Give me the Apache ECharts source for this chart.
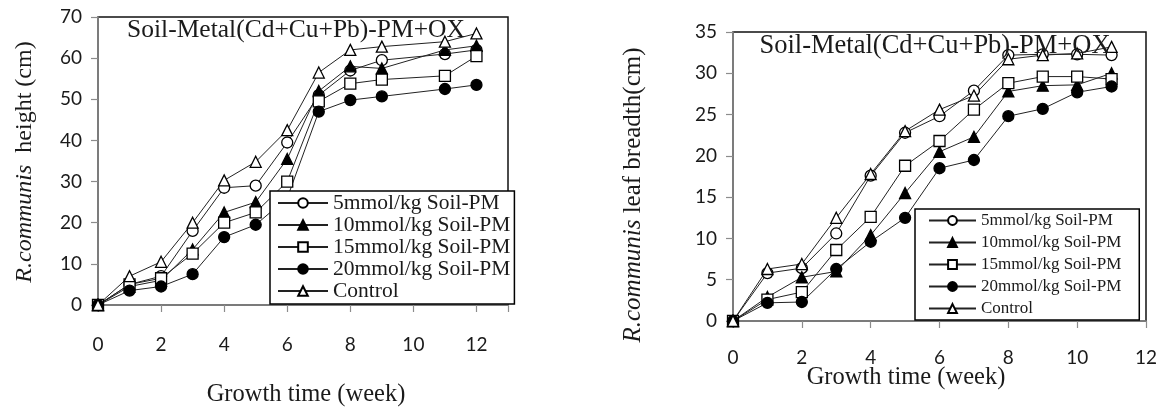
<!DOCTYPE html>
<html>
<head>
<meta charset="utf-8">
<script src="https://cdn.jsdelivr.net/npm/echarts@6/dist/echarts.min.js"></script>
<style>
  html, body { margin: 0; padding: 0; background: #fff; }
  #chart { width: 1163px; height: 412px; }
</style>
</head>
<body>
<div id="chart"></div>
<script>
// Growth weeks sampled for each panel
const weeksHeight = [0, 1, 2, 3, 4, 5, 6, 7, 8, 9, 11, 12];
const weeksBreadth = [0, 1, 2, 3, 4, 5, 6, 7, 8, 9, 10, 11];

const seriesNames = ['5mmol/kg Soil-PM', '10mmol/kg Soil-PM', '15mmol/kg Soil-PM', '20mmol/kg Soil-PM', 'Control'];

// Plant height (cm)
const height5 = [0, 5, 7, 18, 28.5, 29, 39.5, 51, 57, 59.5, 61, 62];
const height10 = [0, 4.5, 6, 13.5, 22.5, 25, 35.5, 52, 58, 57.5, 62, 63];
const height15 = [0, 5, 6.5, 12.5, 20, 22.5, 30, 49.5, 53.8, 54.8, 55.7, 60.5];
const height20 = [0, 3.5, 4.5, 7.5, 16.5, 19.5, 26, 47, 49.8, 50.7, 52.5, 53.5];
const heightCtrl = [0, 7, 10.5, 20, 30.3, 34.8, 42.5, 56.5, 62, 62.8, 64, 66];

// Leaf breadth (cm)
const breadth5 = [0, 5.8, 6.4, 10.6, 17.6, 22.8, 24.8, 27.9, 32.2, 32.3, 32.3, 32.2];
const breadth10 = [0, 2.9, 5.3, 6.0, 10.4, 15.5, 20.5, 22.3, 27.8, 28.5, 28.6, 30.0];
const breadth15 = [0, 2.6, 3.5, 8.6, 12.6, 18.8, 21.8, 25.6, 28.8, 29.6, 29.6, 29.3];
const breadth20 = [0, 2.2, 2.3, 6.3, 9.6, 12.5, 18.5, 19.5, 24.8, 25.7, 27.7, 28.4];
const breadthCtrl = [0, 6.3, 6.9, 12.5, 17.8, 23.0, 25.6, 27.3, 31.7, 32.2, 32.4, 33.2];

const panelTitle = 'Soil-Metal(Cd+Cu+Pb)-PM+OX';
const xTitle = 'Growth time (week)';

const SERIF = "'Liberation Serif', 'DejaVu Serif', serif";
const SANS = "Lato, 'Open Sans', sans-serif";
const INK = '#1a1a1a';

// Marker look per treatment: [symbol, fill]
const markerStyles = [
  ['circle', '#ffffff'],
  ['triangle', '#000000'],
  ['rect', '#ffffff'],
  ['circle', '#000000'],
  ['triangle', '#ffffff']
];

function pairs(xs, ys) { return xs.map((x, i) => [x, ys[i]]); }

function makeSeries(idx, xs, lists) {
  return lists.map((ys, i) => ({
    name: seriesNames[i],
    type: 'line',
    xAxisIndex: idx,
    yAxisIndex: idx,
    data: pairs(xs, ys),
    symbol: markerStyles[i][0],
    symbolSize: 11,
    showAllSymbol: true,
    lineStyle: { color: '#222', width: 1 },
    itemStyle: { color: markerStyles[i][1], borderColor: '#000', borderWidth: 1.3 },
    emphasis: { disabled: true },
    animation: false
  }));
}

function xAxisCfg(idx, max, margin) {
  return {
    gridIndex: idx, type: 'value', min: 0, max: max, interval: 2,
    axisLine: { show: true, lineStyle: { color: '#8c8c8c', width: 1.5 } },
    axisTick: { show: true, inside: false, length: 7, lineStyle: { color: '#8c8c8c', width: 1.2 } },
    axisLabel: {
      margin: margin, color: INK, fontFamily: SANS, fontSize: 19,
      formatter: v => (v % 2 === 0 ? String(v) : '')
    },
    splitLine: { show: false }
  };
}

function yAxisCfg(idx, max, interval) {
  return {
    gridIndex: idx, type: 'value', min: 0, max: max, interval: interval,
    axisLine: { show: true, lineStyle: { color: '#8c8c8c', width: 1.5 } },
    axisTick: { show: true, inside: false, length: 7, lineStyle: { color: '#8c8c8c', width: 1.2 } },
    axisLabel: { margin: 16, color: INK, fontFamily: SANS, fontSize: 19 },
    splitLine: { show: false }
  };
}

const chart = echarts.init(document.getElementById('chart'), null, { renderer: 'canvas' });

chart.setOption({
  backgroundColor: '#ffffff',
  animation: false,
  grid: [
    { left: 98, top: 17, width: 410, height: 288, show: true, borderColor: '#111', borderWidth: 1.5, backgroundColor: 'transparent' },
    { left: 733, top: 32, width: 413, height: 289, show: true, borderColor: '#111', borderWidth: 1.5, backgroundColor: 'transparent' }
  ],
  xAxis: [xAxisCfg(0, 13, 30), xAxisCfg(1, 12, 27)],
  yAxis: [yAxisCfg(0, 70, 10), yAxisCfg(1, 35, 5)],
  legend: [
    {
      orient: 'vertical', left: 270, top: 191,
      data: seriesNames,
      itemWidth: 50, itemHeight: 12, itemGap: 0,
      padding: [1, 4, 2, 7],
      backgroundColor: '#fff', borderColor: '#000', borderWidth: 1.5, borderRadius: 0,
      textStyle: { fontFamily: SERIF, fontSize: 21.5, lineHeight: 20, color: INK },
      selectedMode: false
    },
    {
      orient: 'vertical', left: 915, top: 209,
      data: seriesNames,
      itemWidth: 47, itemHeight: 11, itemGap: 5,
      padding: [3, 18, 3, 13],
      backgroundColor: '#fff', borderColor: '#000', borderWidth: 1.5, borderRadius: 0,
      textStyle: { fontFamily: SERIF, fontSize: 17, lineHeight: 16, color: INK },
      selectedMode: false
    }
  ],
  graphic: [
    { type: 'text', x: 296, y: 30, z: 100,
      style: { text: panelTitle, fontFamily: SERIF, fontSize: 25.5, fill: INK, textAlign: 'center', textVerticalAlign: 'middle' } },
    { type: 'text', x: 935, y: 46, z: 100,
      style: { text: panelTitle, fontFamily: SERIF, fontSize: 26.5, fill: INK, textAlign: 'center', textVerticalAlign: 'middle' } },
    { type: 'text', x: 306, y: 395, z: 100,
      style: { text: xTitle, fontFamily: SERIF, fontSize: 24.5, fill: INK, textAlign: 'center', textVerticalAlign: 'middle' } },
    { type: 'text', x: 906, y: 378, z: 100,
      style: { text: xTitle, fontFamily: SERIF, fontSize: 24.5, fill: INK, textAlign: 'center', textVerticalAlign: 'middle' } },
    { type: 'text', x: 25, y: 162, rotation: Math.PI / 2, z: 100,
      style: {
        text: '{i|R.communis}  height (cm)', fontFamily: SERIF, fontSize: 24, fill: INK,
        textAlign: 'center', textVerticalAlign: 'middle',
        rich: { i: { fontStyle: 'italic', fontFamily: SERIF, fontSize: 24, fill: INK } }
      } },
    { type: 'text', x: 633, y: 195, rotation: Math.PI / 2, z: 100,
      style: {
        text: '{i|R.communis} leaf breadth(cm)', fontFamily: SERIF, fontSize: 25, fill: INK,
        textAlign: 'center', textVerticalAlign: 'middle',
        rich: { i: { fontStyle: 'italic', fontFamily: SERIF, fontSize: 25, fill: INK } }
      } }
  ],
  series: [
    ...makeSeries(0, weeksHeight, [height5, height10, height15, height20, heightCtrl]),
    ...makeSeries(1, weeksBreadth, [breadth5, breadth10, breadth15, breadth20, breadthCtrl])
  ]
});
</script>
</body>
</html>
